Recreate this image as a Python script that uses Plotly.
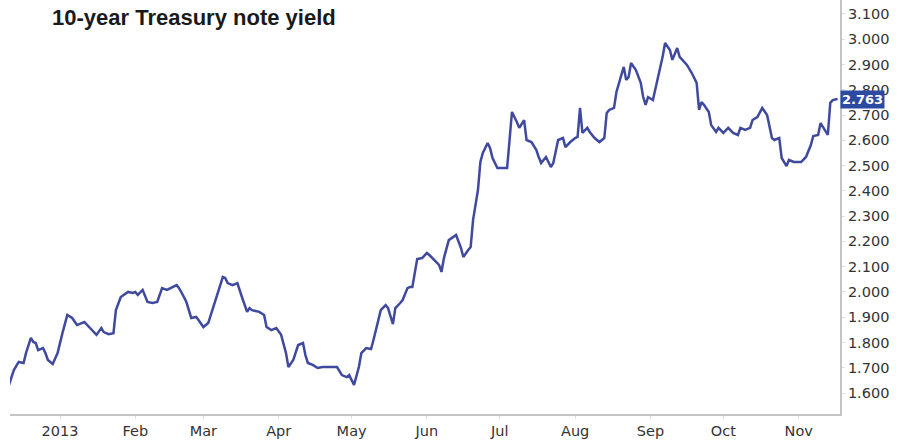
import plotly.graph_objects as go

title_text = "10-year Treasury note yield"

dates = [
    "2012-12-11", "2012-12-13", "2012-12-15", "2012-12-17", "2012-12-18", "2012-12-20", "2012-12-21",
    "2012-12-22", "2012-12-23", "2012-12-25", "2012-12-26", "2012-12-27", "2012-12-29", "2012-12-31",
    "2013-01-02", "2013-01-04", "2013-01-06", "2013-01-08", "2013-01-11", "2013-01-13", "2013-01-15",
    "2013-01-16", "2013-01-18", "2013-01-19", "2013-01-21", "2013-01-23", "2013-01-24", "2013-01-26",
    "2013-01-29", "2013-01-31",
    "2013-02-01", "2013-02-02", "2013-02-04", "2013-02-05", "2013-02-06", "2013-02-08", "2013-02-10",
    "2013-02-12", "2013-02-14", "2013-02-18", "2013-02-19", "2013-02-21", "2013-02-22", "2013-02-24",
    "2013-02-26", "2013-02-27",
    "2013-03-01", "2013-03-03", "2013-03-05", "2013-03-07", "2013-03-09", "2013-03-10", "2013-03-11",
    "2013-03-13", "2013-03-15", "2013-03-17", "2013-03-19", "2013-03-20", "2013-03-21", "2013-03-24",
    "2013-03-26", "2013-03-27", "2013-03-29", "2013-03-31",
    "2013-04-02", "2013-04-04", "2013-04-05", "2013-04-07", "2013-04-09", "2013-04-11", "2013-04-12",
    "2013-04-13", "2013-04-15", "2013-04-17", "2013-04-19", "2013-04-21", "2013-04-23", "2013-04-25",
    "2013-04-27", "2013-04-29", "2013-04-30",
    "2013-05-02", "2013-05-04", "2013-05-05", "2013-05-07", "2013-05-09", "2013-05-10", "2013-05-12",
    "2013-05-13", "2013-05-15", "2013-05-16", "2013-05-18", "2013-05-19", "2013-05-21", "2013-05-22",
    "2013-05-24", "2013-05-25", "2013-05-26", "2013-05-28", "2013-05-30",
    "2013-06-01", "2013-06-02", "2013-06-04", "2013-06-06", "2013-06-07", "2013-06-08", "2013-06-10",
    "2013-06-12", "2013-06-13", "2013-06-15", "2013-06-16", "2013-06-18", "2013-06-19", "2013-06-20",
    "2013-06-22", "2013-06-23", "2013-06-24", "2013-06-26", "2013-06-27", "2013-06-28", "2013-06-30",
    "2013-07-02", "2013-07-04", "2013-07-05", "2013-07-06", "2013-07-08", "2013-07-09", "2013-07-11",
    "2013-07-12", "2013-07-14", "2013-07-16", "2013-07-17", "2013-07-18", "2013-07-20", "2013-07-22",
    "2013-07-23", "2013-07-25", "2013-07-27", "2013-07-28", "2013-07-30",
    "2013-08-01", "2013-08-02", "2013-08-03", "2013-08-04", "2013-08-06", "2013-08-07", "2013-08-09",
    "2013-08-11", "2013-08-13", "2013-08-14", "2013-08-15", "2013-08-17", "2013-08-18", "2013-08-20",
    "2013-08-21", "2013-08-22", "2013-08-23", "2013-08-24", "2013-08-26", "2013-08-28", "2013-08-29",
    "2013-08-30", "2013-08-31",
    "2013-09-02", "2013-09-04", "2013-09-06", "2013-09-07", "2013-09-09", "2013-09-10", "2013-09-12",
    "2013-09-13", "2013-09-14", "2013-09-16", "2013-09-18", "2013-09-20", "2013-09-21", "2013-09-22",
    "2013-09-23", "2013-09-25", "2013-09-26", "2013-09-28", "2013-09-29",
    "2013-10-01", "2013-10-03", "2013-10-05", "2013-10-07", "2013-10-08", "2013-10-10", "2013-10-12",
    "2013-10-13", "2013-10-15", "2013-10-17", "2013-10-19", "2013-10-21", "2013-10-22", "2013-10-24",
    "2013-10-25", "2013-10-27", "2013-10-28", "2013-10-30",
    "2013-11-02", "2013-11-04", "2013-11-06", "2013-11-07", "2013-11-09", "2013-11-10", "2013-11-11",
    "2013-11-13", "2013-11-14", "2013-11-15", "2013-11-17",
]

yields = [
    1.632, 1.691, 1.723, 1.719, 1.758, 1.818, 1.802, 1.798, 1.770, 1.778, 1.758, 1.731, 1.715, 1.758,
    1.837, 1.909, 1.897, 1.869, 1.881, 1.861, 1.837, 1.830, 1.857, 1.841, 1.833, 1.837, 1.928, 1.980,
    2.000, 1.996,
    2.000, 1.988, 2.008, 1.980, 1.960, 1.956, 1.960, 2.015, 2.008, 2.027, 2.015, 1.980, 1.960, 1.897,
    1.901, 1.889,
    1.861, 1.877, 1.940, 2.000, 2.059, 2.055, 2.035, 2.027, 2.035, 1.976, 1.921, 1.936, 1.928, 1.921,
    1.909, 1.861, 1.849, 1.857,
    1.830, 1.758, 1.703, 1.731, 1.790, 1.798, 1.750, 1.719, 1.711, 1.699, 1.703, 1.703, 1.703, 1.703,
    1.671, 1.663, 1.671,
    1.632, 1.703, 1.758, 1.778, 1.774, 1.810, 1.889, 1.928, 1.948, 1.936, 1.873, 1.936, 1.956, 1.968,
    2.015, 2.019, 2.019, 2.130, 2.134,
    2.154, 2.146, 2.126, 2.107, 2.079, 2.134, 2.205, 2.217, 2.225, 2.174, 2.138, 2.166, 2.178, 2.285,
    2.403, 2.514, 2.550, 2.589, 2.569, 2.530, 2.490,
    2.490, 2.490, 2.601, 2.712, 2.672, 2.649, 2.680, 2.601, 2.593, 2.562, 2.534, 2.510, 2.534, 2.494,
    2.510, 2.601, 2.609, 2.573, 2.593,
    2.609, 2.613, 2.728, 2.629, 2.649, 2.633, 2.609, 2.593, 2.609, 2.708, 2.720, 2.728, 2.791, 2.858,
    2.890, 2.839, 2.850, 2.906, 2.878, 2.827, 2.771, 2.740, 2.771,
    2.759, 2.839, 2.930, 2.985, 2.957, 2.918, 2.965, 2.930, 2.918, 2.898, 2.866, 2.827, 2.720, 2.751,
    2.740, 2.712, 2.660, 2.633, 2.649,
    2.629, 2.649, 2.629, 2.621, 2.649, 2.641, 2.649, 2.680, 2.692, 2.728, 2.700, 2.609, 2.601, 2.609,
    2.530, 2.498, 2.522, 2.514,
    2.514, 2.534, 2.581, 2.617, 2.621, 2.668, 2.653, 2.621, 2.748, 2.759, 2.763,
]

month_ticks = ["2013-01-01", "2013-02-01", "2013-03-01", "2013-04-01", "2013-05-01", "2013-06-01",
               "2013-07-01", "2013-08-01", "2013-09-01", "2013-10-01", "2013-11-01"]
month_labels = ["2013", "Feb", "Mar", "Apr", "May", "Jun", "Jul", "Aug", "Sep", "Oct", "Nov"]

y_ticks = [1.6, 1.7, 1.8, 1.9, 2.0, 2.1, 2.2, 2.3, 2.4, 2.5, 2.6, 2.7, 2.8, 2.9, 3.0, 3.1]

line_color = "#3f4a9e"
axis_color = "#c4c4c4"
label_font = dict(family="DejaVu Sans", size=14.5, color="#333333")

fig = go.Figure()
fig.add_trace(go.Scatter(
    x=dates, y=yields, mode="lines",
    line=dict(color=line_color, width=2.5),
    hoverinfo="x+y", showlegend=False,
))

fig.update_layout(
    width=903, height=444,
    margin=dict(l=10, r=63, t=0, b=30, autoexpand=False),
    paper_bgcolor="white", plot_bgcolor="white",
    xaxis=dict(
        type="date", automargin=False,
        range=["2012-12-11 10:00", "2013-11-18"],
        tickvals=month_ticks, ticktext=month_labels,
        showgrid=False, zeroline=False,
        showline=True, linecolor=axis_color, linewidth=2,
        ticks="outside", ticklen=3, tickcolor="#dddddd",
        tickfont=label_font,
    ),
    yaxis=dict(
        side="right", automargin=False,
        range=[1.517, 3.155],
        tickvals=y_ticks, tickformat=".3f",
        showgrid=False, zeroline=False,
        showline=True, linecolor=axis_color, linewidth=2,
        ticks="outside", ticklen=3, tickcolor="#dddddd",
        tickfont=label_font,
    ),
    annotations=[
        dict(
            text=title_text, xref="paper", yref="paper",
            x=0.048, y=0.957, xanchor="left", yanchor="middle",
            showarrow=False,
            font=dict(family="Liberation Sans", size=22, color="#1a1a1a", weight="bold"),
        ),
        dict(
            text="<b>%.3f</b>" % yields[-1], xref="paper", yref="y",
            x=1.0, y=yields[-1], xanchor="left", yanchor="middle",
            showarrow=False, bgcolor="#2d4aa3", borderpad=1,
            font=dict(family="DejaVu Sans", size=13, color="white"),
        ),
    ],
)

fig.write_html(
    "out.html",
    config={"displayModeBar": False},
    post_script="document.body.style.margin='0';document.body.style.overflow='hidden';",
)
